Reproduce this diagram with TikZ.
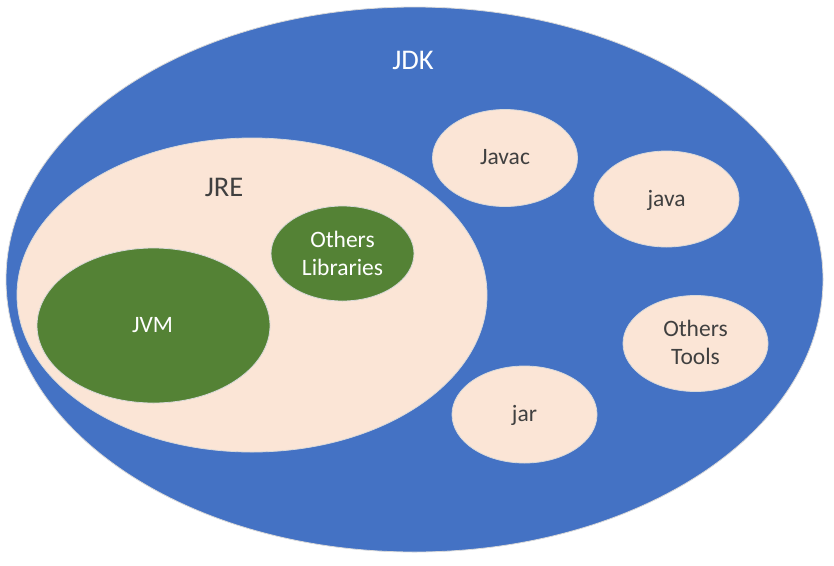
\documentclass[tikz,border=0pt]{standalone}
\usepackage{fontspec}
\setmainfont{Carlito}
\usetikzlibrary{shapes.geometric}
\definecolor{jdkblue}{HTML}{4472C4}
\definecolor{peach}{HTML}{FBE5D6}
\definecolor{jvmgreen}{HTML}{548235}
\definecolor{txtgray}{HTML}{404040}
\definecolor{outl}{HTML}{D9D9D9}
\begin{document}
\begin{tikzpicture}[x=1pt,y=-1pt,
  blob/.style={ellipse, draw=outl, line width=0.8pt, inner sep=0pt},
  bluebox/.style={blob, fill=jdkblue},
  peachbox/.style={blob, fill=peach},
  greenbox/.style={blob, fill=jvmgreen},
  bigtxt/.style={font=\fontsize{28.5}{33}\selectfont, inner sep=0pt},
  smalltxt/.style={font=\fontsize{23.5}{28}\selectfont, inner sep=0pt, align=center},
  darktxt/.style={text=txtgray},
  lighttxt/.style={text=white}]
\useasboundingbox (0,0) rectangle (834,565);
% shapes
\node[bluebox, minimum width=817pt, minimum height=545pt] (jdk) at (414.5,279.5) {};
\node[peachbox, minimum width=470pt, minimum height=314pt] (jre) at (252,295) {};
\node[greenbox, minimum width=233pt, minimum height=155pt] (jvm) at (153.5,325.5) {};
\node[greenbox, minimum width=143pt, minimum height=95pt] (libs) at (342.5,253.5) {};
\node[peachbox, minimum width=145pt, minimum height=97pt] (javac) at (505,158) {};
\node[peachbox, minimum width=145pt, minimum height=96pt] (java) at (666.5,199) {};
\node[peachbox, minimum width=145pt, minimum height=96pt] (tools) at (695.5,343.5) {};
\node[peachbox, minimum width=145pt, minimum height=97pt] (jar) at (524.5,414.5) {};
% labels
\node[bigtxt, lighttxt, anchor=base] (jdklbl) at (413,69) {JDK};
\node[bigtxt, darktxt, anchor=base] (jrelbl) at (224,196) {JRE};
\node[smalltxt, lighttxt, anchor=base] (jvmlbl) at (152.5,332) {JVM};
\node[smalltxt, lighttxt] (libslbl) at (342.5,253) {Others\\Libraries};
\node[smalltxt, darktxt, anchor=base] (javaclbl) at (505,164) {Javac};
\node[smalltxt, darktxt, anchor=base] (javalbl) at (666.5,206) {java};
\node[smalltxt, darktxt] (toolslbl) at (695.5,342) {Others\\Tools};
\node[smalltxt, darktxt, anchor=base] (jarlbl) at (524.5,421) {jar};
\end{tikzpicture}
\end{document}
